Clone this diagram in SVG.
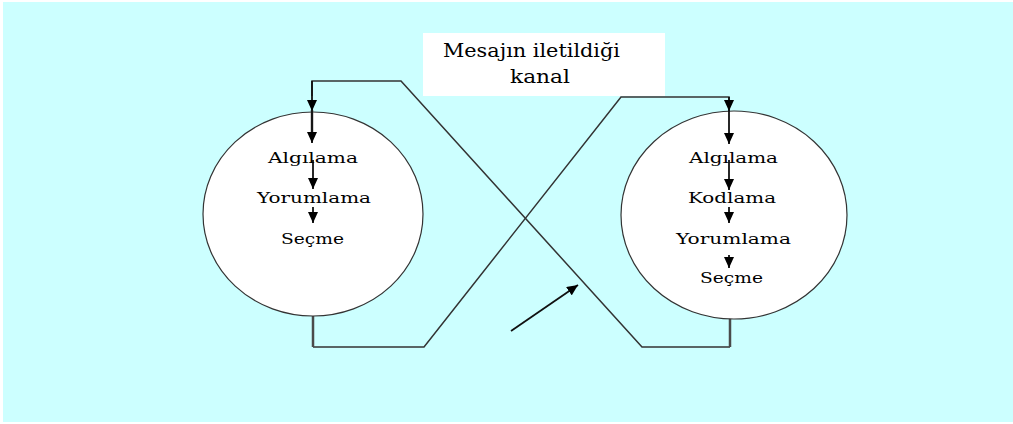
<svg xmlns="http://www.w3.org/2000/svg" width="1013" height="424" viewBox="0 0 1013 424">
  <style>
    .wire { fill: none; stroke: #333333; stroke-width: 1.5; }
    .stem { fill: none; stroke: #4a4a4a; stroke-width: 2.5; }
    .flow { fill: none; stroke: #111111; stroke-width: 1.8; }
    .orb { fill: #ffffff; stroke: #333333; stroke-width: 1.2; }
    .lbl { font-family: "DejaVu Serif", "Liberation Serif", serif; font-size: 14px; fill: #000000; }
    .cap { font-family: "DejaVu Serif", "Liberation Serif", serif; font-size: 18px; fill: #000000; }
  </style>
  <defs>
    <marker id="head" markerUnits="userSpaceOnUse" markerWidth="12" markerHeight="10" refX="11" refY="5" orient="auto">
      <path d="M0,0 L11,5 L0,10 Z" fill="#000000"/>
    </marker>
  </defs>

  <!-- backdrop -->
  <rect x="3" y="2" width="1010" height="420" fill="#ccffff"/>

  <!-- channel label -->
  <g id="channel">
    <rect x="423" y="33" width="242" height="63" fill="#ffffff"/>
    <text class="cap" x="443" y="57" textLength="177" lengthAdjust="spacingAndGlyphs">Mesajın iletildiği</text>
    <text class="cap" x="510" y="83" textLength="60" lengthAdjust="spacingAndGlyphs">kanal</text>
  </g>

  <!-- connectors -->
  <g id="connectors">
    <!-- right bottom stem crossing over to the left top -->
    <polyline class="wire" points="730,347 642,347 401,81 312,81 312,96"/>
    <!-- left bottom stem crossing over to the right top -->
    <polyline class="wire" points="313,347 424,347 621,97 729,97 729,100"/>
    <line class="stem" x1="313" y1="316" x2="313" y2="347"/>
    <line class="stem" x1="730" y1="316" x2="730" y2="347"/>
    <!-- free arrow -->
    <line class="flow" x1="511" y1="331" x2="578" y2="285" marker-end="url(#head)"/>
  </g>

  <!-- circle on the left -->
  <g id="left-node">
    <ellipse class="orb" cx="313" cy="214" rx="110" ry="102"/>
    <line class="flow" x1="312" y1="81" x2="312" y2="111" marker-end="url(#head)"/>
    <line class="stem" x1="312" y1="110" x2="312" y2="134"/>
    <line class="flow" x1="312" y1="110" x2="312" y2="143" marker-end="url(#head)"/>
    <line class="flow" x1="313" y1="160" x2="313" y2="189" marker-end="url(#head)"/>
    <line class="flow" x1="313" y1="207" x2="313" y2="223" marker-end="url(#head)"/>
    <text class="lbl" x="268" y="163" textLength="90" lengthAdjust="spacingAndGlyphs">Algılama</text>
    <text class="lbl" x="257" y="203" textLength="114" lengthAdjust="spacingAndGlyphs">Yorumlama</text>
    <text class="lbl" x="281" y="244" textLength="63" lengthAdjust="spacingAndGlyphs">Seçme</text>
  </g>

  <!-- circle on the right -->
  <g id="right-node">
    <ellipse class="orb" cx="734" cy="215" rx="113" ry="104"/>
    <line class="flow" x1="729" y1="97" x2="729" y2="111" marker-end="url(#head)"/>
    <line class="flow" x1="729" y1="110" x2="729" y2="144" marker-end="url(#head)"/>
    <line class="flow" x1="729" y1="160" x2="729" y2="190" marker-end="url(#head)"/>
    <line class="flow" x1="729" y1="207" x2="729" y2="223" marker-end="url(#head)"/>
    <line class="flow" x1="729" y1="255" x2="729" y2="268" marker-end="url(#head)"/>
    <text class="lbl" x="689" y="163" textLength="89" lengthAdjust="spacingAndGlyphs">Algılama</text>
    <text class="lbl" x="688" y="203" textLength="88" lengthAdjust="spacingAndGlyphs">Kodlama</text>
    <text class="lbl" x="676" y="244" textLength="115" lengthAdjust="spacingAndGlyphs">Yorumlama</text>
    <text class="lbl" x="700" y="283" textLength="63" lengthAdjust="spacingAndGlyphs">Seçme</text>
  </g>
</svg>
